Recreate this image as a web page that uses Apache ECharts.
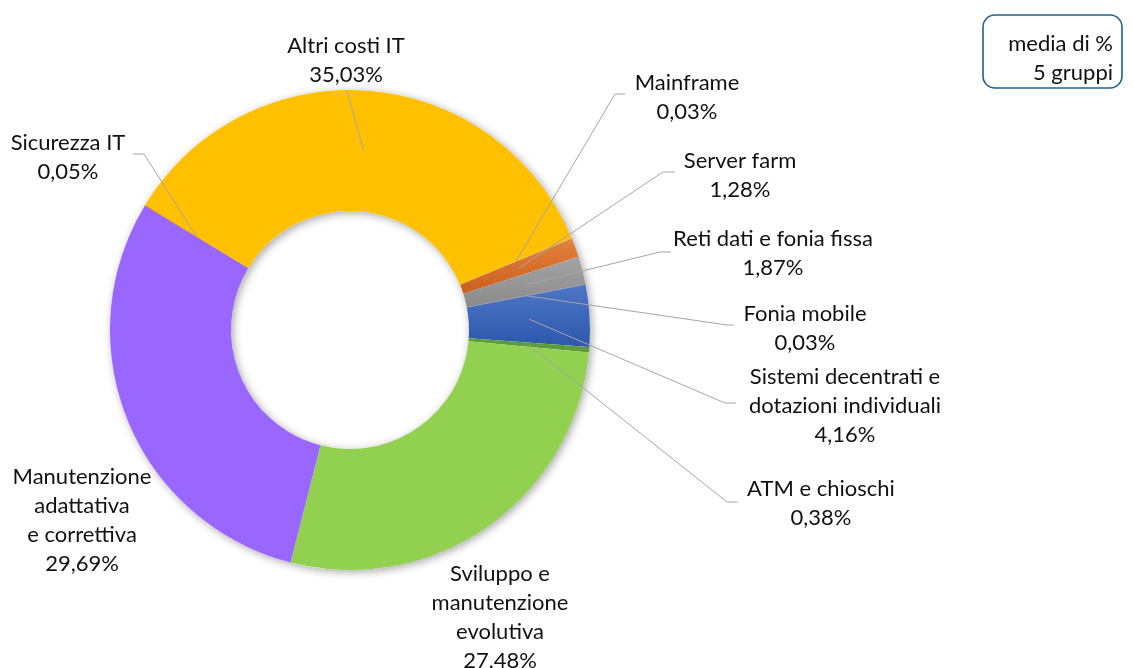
<!DOCTYPE html>
<html>
<head>
<meta charset="utf-8">
<script src="https://cdn.jsdelivr.net/npm/echarts@6/dist/echarts.min.js"></script>
<style>
  html, body { margin: 0; padding: 0; background: #ffffff; }
  #chart { width: 1133px; height: 668px; }
</style>
</head>
<body>
<div id="chart"></div>
<script>
// Cost categories (clockwise from the first slice) and their average share, in %
const categories = [
  'Mainframe',
  'Server farm',
  'Reti dati e fonia fissa',
  'Fonia mobile',
  'Sistemi decentrati e\ndotazioni individuali',
  'ATM e chioschi',
  'Sviluppo e\nmanutenzione\nevolutiva',
  'Manutenzione\nadattativa\ne correttiva',
  'Sicurezza IT',
  'Altri costi IT'
];
const shares = [0.03, 1.28, 1.87, 0.03, 4.16, 0.38, 27.48, 29.69, 0.05, 35.03];
const noteLines = ['media di %', '5 gruppi'];

// Slice fills
const sliceColors = [
  '#2E75B6',
  { type: 'linear', x: 0, y: 0, x2: 0, y2: 1, colorStops: [{ offset: 0, color: '#E3823E' }, { offset: 1, color: '#C9601B' }] },
  { type: 'linear', x: 0, y: 0, x2: 0, y2: 1, colorStops: [{ offset: 0, color: '#A3A3A3' }, { offset: 1, color: '#8A8A8A' }] },
  '#7F7F7F',
  { type: 'linear', x: 0, y: 0, x2: 0, y2: 1, colorStops: [{ offset: 0, color: '#4E77C6' }, { offset: 1, color: '#2C58AC' }] },
  '#5E9C3A',
  '#92D050',
  '#9966FF',
  '#C55A11',
  '#FFC000'
];

// Ring geometry
const CX = 350, CY = 330, R_IN = 119, R_OUT = 240, START_ANGLE = 22.5;
const FONT = 'Lato';
const FONT_SIZE = 22;
const LINE_H = 29;

// Label block centres and leader-line elbows/ends (null = no leader line)
const labelPlacement = [
  { x: 687, y: 97,  line: [[615, 94], [625, 94]] },
  { x: 740, y: 175, line: [[663, 172], [675, 172]] },
  { x: 773, y: 253, line: [[660, 252], [671, 252]] },
  { x: 805, y: 328, line: [[727, 325], [734, 325]] },
  { x: 845, y: 406, line: [[725, 403], [736, 403]] },
  { x: 821, y: 503, line: [[727, 502], [738, 502]] },
  { x: 500, y: 617, line: null },
  { x: 82,  y: 520, line: null },
  { x: 68,  y: 157, line: [[144, 154], [133, 154]] },
  { x: 346, y: 60,  line: [[347, 91], [347, 91]] }
];

const total = shares.reduce((a, b) => a + b, 0);
// Point at radius r on the bisector of slice i (same angular convention as the pie layout)
function sliceMidPoint(i, r) {
  let before = 0;
  for (let k = 0; k < i; k++) before += shares[k];
  const frac = (before + shares[i] / 2) / total;
  const a = (-START_ANGLE + frac * 360) * Math.PI / 180;
  return [CX + r * Math.cos(a), CY + r * Math.sin(a)];
}

const fmtPct = v => v.toFixed(2).replace('.', ',') + '%';

const ringBase = {
  type: 'pie',
  center: [CX, CY],
  radius: [R_IN, R_OUT],
  startAngle: START_ANGLE,
  clockwise: true,
  avoidLabelOverlap: false,
  minAngle: 0,
  emphasis: { disabled: true }
};

const chart = echarts.init(document.getElementById('chart'), null, { renderer: 'canvas' });

chart.setOption({
  backgroundColor: '#ffffff',
  animation: false,
  series: [
    {
      // soft drop shadow under the ring
      type: 'pie',
      silent: true,
      center: [CX, CY],
      radius: [R_IN, R_OUT],
      label: { show: false },
      labelLine: { show: false },
      itemStyle: {
        color: '#ffffff',
        shadowBlur: 9,
        shadowColor: 'rgba(0,0,0,0.35)',
        shadowOffsetX: 2,
        shadowOffsetY: 2
      },
      data: [{ value: 1, name: '' }],
      z: 1
    },
    Object.assign({}, ringBase, {
      // the slices
      itemStyle: { borderWidth: 0 },
      label: { show: false },
      labelLine: { show: false },
      data: categories.map((name, i) => ({
        name: name,
        value: shares[i],
        itemStyle: { color: sliceColors[i] }
      })),
      z: 2
    }),
    Object.assign({}, ringBase, {
      // same slices, unfilled, carrying the labels and leader lines above the ring
      silent: true,
      itemStyle: { color: 'rgba(0,0,0,0)', borderWidth: 0 },
      label: {
        show: true,
        position: 'outside',
        formatter: p => p.name + '\n' + fmtPct(p.value),
        fontFamily: FONT,
        fontSize: FONT_SIZE,
        lineHeight: LINE_H,
        color: '#111111',
        align: 'center'
      },
      labelLine: {
        show: true,
        lineStyle: { color: '#A6A6A6', width: 1 }
      },
      labelLayout: params => {
        const i = params.dataIndex;
        const p = labelPlacement[i];
        const out = { x: p.x, y: p.y, align: 'center', verticalAlign: 'middle' };
        if (p.line) {
          out.labelLinePoints = [sliceMidPoint(i, (R_IN + R_OUT) / 2), p.line[0], p.line[1]];
        }
        return out;
      },
      data: categories.map((name, i) => ({
        name: name,
        value: shares[i],
        labelLine: { show: labelPlacement[i].line !== null }
      })),
      z: 3
    })
  ],
  graphic: [
    {
      type: 'rect',
      shape: { x: 983, y: 15, width: 139, height: 73, r: 12 },
      style: { fill: '#ffffff', stroke: '#21618C', lineWidth: 1.6 }
    },
    {
      type: 'text',
      x: 1113,
      y: 58,
      style: {
        text: noteLines.join('\n'),
        fontFamily: FONT,
        fontSize: FONT_SIZE,
        lineHeight: LINE_H,
        fill: '#111111',
        align: 'right',
        verticalAlign: 'middle'
      }
    }
  ]
});
</script>
</body>
</html>
